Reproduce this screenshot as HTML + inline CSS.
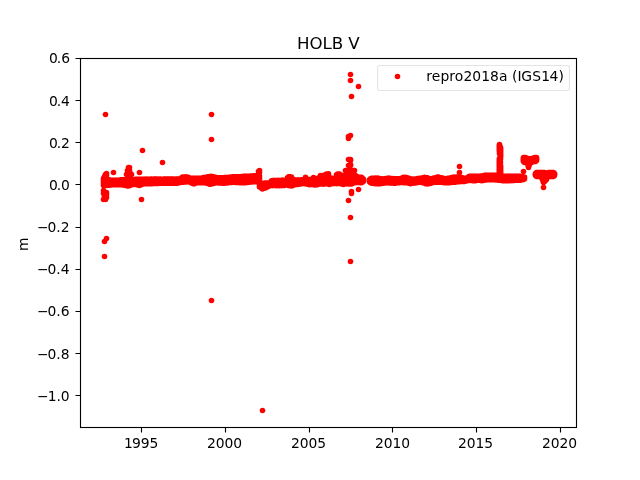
<!DOCTYPE html>
<html lang="en">
<head>
<meta charset="utf-8">
<title>HOLB V</title>
<style>
html,body{margin:0;padding:0;background:#fff;}
body{width:640px;height:480px;overflow:hidden;}
svg{display:block;}
text{font-family:"DejaVu Sans","Liberation Sans",sans-serif;fill:#000;}
.tk{font-size:13.89px;}
.tt{font-size:16.67px;}
</style>
</head>
<body>
<svg width="640" height="480" viewBox="0 0 640 480">
<rect x="0" y="0" width="640" height="480" fill="#fff"/>
<g id="series" fill="none" stroke="#f00" stroke-width="5.56" stroke-linecap="round">
<path d="M103.5 178.45V185.59M104.5 178.78V185.48M105.5 179V185.47M106.5 179.13V185.42M107.5 179.38V185.32M108.5 179.63V185.15M109.5 179.88V185.18M110.5 179.98V184.87M111.5 180.26V184.87M112.5 180.3V184.7M113.5 180.39V184.61M114.5 180.37V184.67M115.5 180.19V184.63M116.5 180.23V184.8M117.5 180.2V184.74M118.5 180.27V184.69M119.5 180.08V184.62M120.5 179.8V184.65M121.5 179.82V184.74M122.5 179.74V184.91M123.5 179.77V184.96M124.5 179.85V185.18M125.5 179.72V185.29M126.5 179.79V185.73M127.5 179.84V186.09M128.5 179.9V186.05M129.5 179.76V185.7M130.5 179.7V185.26M131.5 179.63V185.05M132.5 179.68V184.78M133.5 179.58V184.47M134.5 179.41V184.3M135.5 179.3V184.27M136.5 179.36V184.65M137.5 179.27V184.89M138.5 179.17V185.2M139.5 179.32V185.57M140.5 179.36V185.09M141.5 179.25V184.68M142.5 179.17V184.13M143.5 179.2V183.69M144.5 179.16V183.78M145.5 179.15V183.66M146.5 179.19V183.81M147.5 179.09V183.71M148.5 179.18V183.81M149.5 179.22V183.81M150.5 179.06V183.7M151.5 179.06V183.81M152.5 179.19V183.6M153.5 179V183.56M154.5 179.02V183.55M155.5 179.1V183.44M156.5 178.96V183.41M157.5 179.05V183.39M158.5 179.19V183.35M159.5 179.08V183.27M160.5 179.12V183.11M161.5 179.18V183.29M162.5 179.17V183.29M163.5 179.05V183.2M164.5 178.98V183.25M165.5 178.97V183.12M166.5 179.01V183.14M167.5 179.04V183.11M168.5 178.96V183.14M169.5 178.98V183.19M170.5 178.97V183.31M171.5 179.11V183.14M172.5 179.02V183.18M173.5 179.05V183.13M174.5 179.16V183.34M175.5 179.07V183.22M176.5 178.98V183.12M177.5 179.04V183.16M178.5 179.16V183.06M179.5 178.9V182.75M180.5 178.6V182.19M181.5 177.72V182.07M182.5 176.99V182.24M183.5 177.07V182.11M184.5 176.92V181.96M185.5 176.9V182M186.5 176.99V181.94M187.5 176.94V181.74M188.5 177.26V181.86M189.5 177.92V181.87M190.5 178.29V182.23M191.5 178.21V182.91M192.5 178.25V183.46M193.5 178.17V183.85M194.5 178.22V183.69M195.5 178.39V183.13M196.5 178.38V182.9M197.5 178.39V182.69M198.5 178.21V182.65M199.5 178.21V182.65M200.5 178.26V182.82M201.5 178.12V182.72M202.5 177.87V182.79M203.5 177.53V182.76M204.5 177.53V182.79M205.5 177.29V182.78M206.5 176.99V183.14M207.5 176.86V183.48M208.5 176.85V183.71M209.5 176.54V184.18M210.5 176.46V184.33M211.5 176.31V184.06M212.5 176.66V183.72M213.5 176.68V183.35M214.5 177.21V183.14M215.5 177.39V182.94M216.5 177.63V182.65M217.5 177.89V182.78M218.5 177.79V182.92M219.5 177.76V182.98M220.5 177.86V182.89M221.5 177.72V182.98M222.5 177.72V183.13M223.5 177.72V183.16M224.5 177.65V183.26M225.5 177.61V183.05M226.5 177.56V183.05M227.5 177.42V182.96M228.5 177.34V182.76M229.5 177.25V182.54M230.5 177.13V182.48M231.5 176.92V182.53M232.5 176.86V182.35M233.5 176.9V182.27M234.5 176.74V182.26M235.5 176.79V182.4M236.5 176.69V182.43M237.5 176.72V182.45M238.5 176.85V182.59M239.5 176.79V182.73M240.5 176.84V182.71M241.5 176.64V182.72M242.5 176.49V182.77M243.5 176.35V182.73M244.5 176.27V182.77M245.5 176.33V182.68M246.5 176.39V182.44M247.5 176.29V182.53M248.5 176.36V182.25M249.5 176.19V182.24M250.5 176.14V182.07M251.5 176.01V182.05M252.5 176.06V181.98M253.5 175.78V181.81M254.5 175.82V181.63M255.5 175.87V181.83M256.5 175.71V181.83M257.5 175.76V181.72M258.5 175.9V181.8M259.5 175.7V181.7M259.5 184.82V186.99M260.5 184.54V187.53M261.5 184.42V188.15M262.5 184.11V189.08M263.5 183.32V188.57M264.5 183.09V188.33M265.5 182.95V188.04M266.5 183.12V187.52M267.5 182.94V186.85M268.5 182.92V186.57M269.5 182.79V186.02M270.5 182.16V185.8M271.5 180.75V185.46M272.5 180.5V185.62M273.5 180.6V185.57M274.5 180.48V185.41M275.5 180.63V185.5M276.5 180.48V185.63M277.5 180.61V185.59M278.5 180.48V185.61M279.5 180.48V185.61M280.5 180.57V185.48M281.5 180.59V185.62M282.5 180.52V185.43M283.5 180.59V185.46M284.5 180.49V185.38M285.5 180.35V184.93M286.5 179.87V184.77M287.5 177.85V184.96M288.5 176.88V185.52M289.5 176.84V185.75M290.5 176.82V185.78M291.5 176.94V185.94M292.5 178.71V185.78M293.5 179.56V185.07M294.5 179.94V184.75M295.5 179.98V184.7M296.5 179.95V184.48M297.5 180.03V184.45M298.5 179.94V184.28M299.5 180.03V184.12M300.5 179.96V183.93M301.5 179.87V183.76M302.5 179.88V183.79M303.5 179.86V183.54M304.5 179.76V183.6M305.5 179.88V183.73M306.5 179.68V183.91M307.5 179.61V184.23M308.5 179.52V184.5M309.5 179.48V184.67M310.5 179.53V184.51M311.5 179.23V184.56M312.5 179.11V184.45M313.5 178.9V184.73M314.5 178.88V185.08M315.5 178.68V185.01M316.5 178.5V184.78M317.5 178.38V184.64M318.5 177.96V184.29M319.5 177.23V184.08M320.5 176.44V183.9M321.5 175.84V183.76M322.5 175.67V183.99M323.5 175.37V184.18M324.5 175.18V184.08M325.5 174.71V183.84M326.5 174.05V183.7M327.5 173.95V183.84M328.5 173.78V184.31M329.5 177.16V184.42M330.5 177.91V184.02M331.5 178.21V183.66M332.5 178.33V183.61M333.5 178.52V183.57M334.5 178.3V183.41M335.5 177.73V183.49M336.5 174.69V183.6M337.5 174.13V183.55M338.5 173.92V183.56M339.5 174.01V183.4M340.5 174.69V183.64M341.5 175.31V183.9M342.5 175.61V184.15M343.5 175.64V184.4M344.5 175.29V184.04M345.5 174.79V183.72M346.5 172.43V183.87M347.5 172.74V183.81M348.5 172.98V183.96M349.5 173.3V184.03M350.5 173.52V183.98M351.5 173.77V184.08M352.5 174.42V183.6M353.5 174.73V183.09M354.5 174.67V182.75M355.5 175.6V182.67M356.5 176.36V182.53M357.5 176.74V182.53M358.5 176.93V182.45M359.5 177.23V182.51M360.5 177.39V182.72M361.5 177.27V182.67M362.5 178.25V182.25M363.5 179.22V181.22M363.02 179.22V181.22M369.5 179.77V181.77M370.5 178.71V182.71M371.5 178.2V183.15M372.5 178.29V183.21M373.5 178.26V183.4M374.5 178.27V183.54M375.5 178.12V183.68M376.5 178.18V183.56M377.5 178.14V183.77M378.5 178.49V183.81M379.5 178.64V183.75M380.5 178.86V183.7M381.5 178.84V183.5M382.5 178.96V183.18M383.5 178.9V183.2M384.5 178.81V182.98M385.5 178.6V182.89M386.5 178.64V182.84M387.5 178.16V182.85M388.5 178.14V182.81M389.5 178.42V183.04M390.5 178.55V183.12M391.5 178.58V183.01M392.5 178.68V183.04M393.5 178.65V183.27M394.5 178.77V183.28M395.5 178.71V183.17M396.5 178.79V182.93M397.5 178.73V182.66M398.5 178.74V182.68M399.5 178.74V182.66M400.5 178.56V182.46M401.5 178.35V182.43M402.5 177.7V182.53M403.5 177.37V182.66M404.5 177.48V182.59M405.5 177.35V182.65M406.5 177.57V182.74M407.5 177.77V182.88M408.5 178.08V183.26M409.5 178.45V183.3M410.5 178.84V183.68M411.5 178.98V183.42M412.5 179.15V183.17M413.5 179.2V183.02M414.5 179.03V182.92M415.5 178.97V182.93M416.5 178.87V182.67M417.5 178.64V182.55M418.5 178.49V182.37M419.5 178.27V182.21M420.5 178.34V182.18M421.5 177.99V182.54M422.5 177.83V182.69M423.5 177.43V182.95M424.5 177.38V183.25M425.5 177.68V183.65M426.5 177.83V183.79M427.5 177.88V184.06M428.5 178.33V183.75M429.5 178.51V183.39M430.5 178.7V183.36M431.5 178.8V183.1M432.5 178.6V182.7M433.5 178.15V182.43M434.5 177.99V182.32M435.5 177.85V182.27M436.5 177.39V182.28M437.5 176.98V182.23M438.5 177.13V182.29M439.5 177.43V182.32M440.5 177.77V182.17M441.5 177.9V182.2M442.5 178.27V182.43M443.5 178.4V182.41M444.5 178.73V182.66M445.5 178.7V182.65M446.5 178.56V182.6M447.5 178.29V182.71M448.5 178.24V182.75M449.5 178.03V182.71M450.5 177.67V182.58M451.5 177.7V182.56M452.5 177.39V182.27M453.5 177.29V182.3M454.5 177.14V182.1M455.5 177.16V182.16M456.5 177.02V181.85M457.5 177V181.84M458.5 177.04V181.68M459.5 177.05V181.74M460.5 176.98V181.54M461.5 177.63V181.5M462.5 178.14V181.41M463.5 178.14V181.45M464.5 178.25V181.41M465.5 178.38V181.07M466.5 178.13V180.88M467.5 177.63V180.71M468.5 176.78V180.26M469.5 176.21V180.37M470.5 176.19V180.25M471.5 176.17V180.43M472.5 176.38V180.65M473.5 176.34V180.78M474.5 176.38V180.62M475.5 176.2V180.66M476.5 176.34V180.34M477.5 176.32V180.33M478.5 176.25V180.22M479.5 176.16V180.16M480.5 176.01V180.54M481.5 176.01V180.81M482.5 175.84V180.57M483.5 175.46V180.35M484.5 175.36V180.14M485.5 175.17V180.05M486.5 175.25V180.06M487.5 175.21V179.82M488.5 175.38V179.64M489.5 175.26V179.79M490.5 175.34V179.61M491.5 175.17V179.62M492.5 175.38V179.66M493.5 175.34V179.82M494.5 175.24V179.7M495.5 175.39V179.89M496.5 175.22V180.01M497.5 175.24V180M498.5 175.16V180.22M499.5 175.53V180.29M500.5 175.74V180.24M501.5 175.77V180.45M502.5 176.14V180.67M503.5 176.2V180.6M504.5 176.26V180.72M505.5 176.38V180.64M506.5 176.35V180.78M507.5 176.36V180.79M508.5 176.31V180.68M509.5 176.24V180.69M510.5 176.35V180.56M511.5 176.21V180.62M512.5 176.22V180.35M513.5 176.17V180.37M514.5 176.24V180.37M515.5 176.37V180.34M516.5 176.22V180.12M517.5 176.18V180.22M518.5 176.33V180.21M519.5 176.22V180.2M520.5 176.35V180.18M521.5 176.46V180.09M522.5 176.51V179.8M523.5 176.68V179.59M524.5 177.01V179.11M369.98 179.77V181.77M278.5 180.18V183.04M282.5 180.08V182.98M305.5 177.38V181.81M313.5 177.58V181.82M320.5 175.58V180.17"/>
<path d="M103.5 190.5h0"/>
<path d="M103.5 193.5h0"/>
<path d="M103.5 199.5h0"/>
<path d="M104.5 176.5h0"/>
<path d="M104.5 192.5h0"/>
<path d="M104.5 196.5h0"/>
<path d="M104.5 198.5h0"/>
<path d="M104.5 241.5h0"/>
<path d="M104.5 256.5h0"/>
<path d="M105.5 114.5h0"/>
<path d="M105.5 174.5h0"/>
<path d="M105.5 194.5h0"/>
<path d="M105.5 196.5h0"/>
<path d="M105.5 199.5h0"/>
<path d="M106.5 173.5h0"/>
<path d="M106.5 175.5h0"/>
<path d="M106.5 192.5h0"/>
<path d="M106.5 194.5h0"/>
<path d="M106.5 197.5h0"/>
<path d="M106.5 238.5h0"/>
<path d="M113.5 172.5h0"/>
<path d="M126.5 174.5h0"/>
<path d="M127.5 170.5h0"/>
<path d="M127.5 173.5h0"/>
<path d="M128.5 167.5h0"/>
<path d="M128.5 175.5h0"/>
<path d="M129.5 167.5h0"/>
<path d="M129.5 170.5h0"/>
<path d="M130.5 173.5h0"/>
<path d="M131.5 174.5h0"/>
<path d="M139.5 172.5h0"/>
<path d="M141.5 199.5h0"/>
<path d="M142.5 150.5h0"/>
<path d="M162.5 162.5h0"/>
<path d="M211.5 114.5h0"/>
<path d="M211.5 139.5h0"/>
<path d="M211.5 300.5h0"/>
<path d="M258.5 171.5h0"/>
<path d="M259.5 170.5h0"/>
<path d="M259.5 172.5h0"/>
<path d="M262.5 410.5h0"/>
<path d="M345.5 170.5h0"/>
<path d="M346.5 170.5h0"/>
<path d="M346.5 171.5h0"/>
<path d="M347.5 170.5h0"/>
<path d="M348.5 136.5h0"/>
<path d="M348.5 138.5h0"/>
<path d="M348.5 159.5h0"/>
<path d="M348.5 165.5h0"/>
<path d="M348.5 170.5h0"/>
<path d="M348.5 200.5h0"/>
<path d="M349.5 159.5h0"/>
<path d="M349.5 165.5h0"/>
<path d="M349.5 170.5h0"/>
<path d="M350.5 74.5h0"/>
<path d="M350.5 80.5h0"/>
<path d="M350.5 135.5h0"/>
<path d="M350.5 159.5h0"/>
<path d="M350.5 160.5h0"/>
<path d="M350.5 164.5h0"/>
<path d="M350.5 165.5h0"/>
<path d="M350.5 170.5h0"/>
<path d="M350.5 217.5h0"/>
<path d="M350.5 261.5h0"/>
<path d="M351.5 96.5h0"/>
<path d="M351.5 170.5h0"/>
<path d="M351.5 191.5h0"/>
<path d="M351.5 193.5h0"/>
<path d="M352.5 170.5h0"/>
<path d="M353.5 170.5h0"/>
<path d="M353.5 171.5h0"/>
<path d="M354.5 170.5h0"/>
<path d="M358.5 86.5h0"/>
<path d="M358.5 189.5h0"/>
<path d="M459.5 166.5h0"/>
<path d="M459.5 172.5h0"/>
<path d="M499.5 144.5h0"/>
<path d="M499.5 145.5h0"/>
<path d="M499.5 146.5h0"/>
<path d="M499.5 147.5h0"/>
<path d="M499.5 148.5h0"/>
<path d="M499.5 149.5h0"/>
<path d="M499.5 150.5h0"/>
<path d="M499.5 151.5h0"/>
<path d="M499.5 153.5h0"/>
<path d="M499.5 158.5h0"/>
<path d="M499.5 159.5h0"/>
<path d="M499.5 160.5h0"/>
<path d="M499.5 161.5h0"/>
<path d="M499.5 162.5h0"/>
<path d="M499.5 163.5h0"/>
<path d="M499.5 164.5h0"/>
<path d="M499.5 165.5h0"/>
<path d="M499.5 166.5h0"/>
<path d="M499.5 167.5h0"/>
<path d="M499.5 168.5h0"/>
<path d="M499.5 169.5h0"/>
<path d="M499.5 170.5h0"/>
<path d="M499.5 171.5h0"/>
<path d="M499.5 172.5h0"/>
<path d="M499.5 173.5h0"/>
<path d="M499.5 174.5h0"/>
<path d="M500.5 147.5h0"/>
<path d="M500.5 148.5h0"/>
<path d="M500.5 149.5h0"/>
<path d="M500.5 150.5h0"/>
<path d="M500.5 151.5h0"/>
<path d="M500.5 152.5h0"/>
<path d="M500.5 153.5h0"/>
<path d="M500.5 154.5h0"/>
<path d="M500.5 155.5h0"/>
<path d="M500.5 156.5h0"/>
<path d="M500.5 157.5h0"/>
<path d="M500.5 159.5h0"/>
<path d="M500.5 162.5h0"/>
<path d="M500.5 165.5h0"/>
<path d="M500.5 166.5h0"/>
<path d="M500.5 167.5h0"/>
<path d="M500.5 168.5h0"/>
<path d="M500.5 169.5h0"/>
<path d="M500.5 170.5h0"/>
<path d="M500.5 171.5h0"/>
<path d="M500.5 172.5h0"/>
<path d="M500.5 173.5h0"/>
<path d="M500.5 174.5h0"/>
<path d="M523.5 157.5h0"/>
<path d="M523.5 158.5h0"/>
<path d="M523.5 159.5h0"/>
<path d="M523.5 160.5h0"/>
<path d="M523.5 161.5h0"/>
<path d="M523.5 171.5h0"/>
<path d="M524.5 157.5h0"/>
<path d="M524.5 158.5h0"/>
<path d="M524.5 159.5h0"/>
<path d="M524.5 160.5h0"/>
<path d="M524.5 161.5h0"/>
<path d="M524.5 162.5h0"/>
<path d="M525.5 157.5h0"/>
<path d="M525.5 158.5h0"/>
<path d="M525.5 159.5h0"/>
<path d="M525.5 160.5h0"/>
<path d="M525.5 161.5h0"/>
<path d="M525.5 162.5h0"/>
<path d="M526.5 158.5h0"/>
<path d="M526.5 159.5h0"/>
<path d="M526.5 160.5h0"/>
<path d="M526.5 161.5h0"/>
<path d="M526.5 162.5h0"/>
<path d="M527.5 158.5h0"/>
<path d="M527.5 159.5h0"/>
<path d="M527.5 160.5h0"/>
<path d="M527.5 161.5h0"/>
<path d="M527.5 162.5h0"/>
<path d="M527.5 163.5h0"/>
<path d="M528.5 158.5h0"/>
<path d="M528.5 159.5h0"/>
<path d="M528.5 160.5h0"/>
<path d="M528.5 161.5h0"/>
<path d="M528.5 162.5h0"/>
<path d="M528.5 163.5h0"/>
<path d="M528.5 164.5h0"/>
<path d="M528.5 165.5h0"/>
<path d="M528.5 166.5h0"/>
<path d="M528.5 167.5h0"/>
<path d="M529.5 159.5h0"/>
<path d="M529.5 160.5h0"/>
<path d="M529.5 161.5h0"/>
<path d="M529.5 162.5h0"/>
<path d="M529.5 163.5h0"/>
<path d="M529.5 164.5h0"/>
<path d="M530.5 159.5h0"/>
<path d="M530.5 160.5h0"/>
<path d="M530.5 161.5h0"/>
<path d="M530.5 162.5h0"/>
<path d="M531.5 158.5h0"/>
<path d="M531.5 159.5h0"/>
<path d="M531.5 160.5h0"/>
<path d="M531.5 161.5h0"/>
<path d="M531.5 162.5h0"/>
<path d="M532.5 158.5h0"/>
<path d="M532.5 159.5h0"/>
<path d="M532.5 160.5h0"/>
<path d="M532.5 161.5h0"/>
<path d="M533.5 158.5h0"/>
<path d="M533.5 159.5h0"/>
<path d="M533.5 160.5h0"/>
<path d="M533.5 161.5h0"/>
<path d="M534.5 157.5h0"/>
<path d="M534.5 158.5h0"/>
<path d="M534.5 159.5h0"/>
<path d="M534.5 160.5h0"/>
<path d="M534.5 161.5h0"/>
<path d="M535.5 157.5h0"/>
<path d="M535.5 158.5h0"/>
<path d="M535.5 159.5h0"/>
<path d="M535.5 160.5h0"/>
<path d="M535.5 161.5h0"/>
<path d="M535.5 173.5h0"/>
<path d="M535.5 174.5h0"/>
<path d="M535.5 175.5h0"/>
<path d="M536.5 157.5h0"/>
<path d="M536.5 158.5h0"/>
<path d="M536.5 159.5h0"/>
<path d="M536.5 160.5h0"/>
<path d="M536.5 172.5h0"/>
<path d="M536.5 173.5h0"/>
<path d="M536.5 174.5h0"/>
<path d="M536.5 175.5h0"/>
<path d="M536.5 176.5h0"/>
<path d="M537.5 172.5h0"/>
<path d="M537.5 173.5h0"/>
<path d="M537.5 174.5h0"/>
<path d="M537.5 175.5h0"/>
<path d="M537.5 176.5h0"/>
<path d="M538.5 172.5h0"/>
<path d="M538.5 173.5h0"/>
<path d="M538.5 174.5h0"/>
<path d="M538.5 175.5h0"/>
<path d="M538.5 176.5h0"/>
<path d="M539.5 172.5h0"/>
<path d="M539.5 173.5h0"/>
<path d="M539.5 174.5h0"/>
<path d="M539.5 175.5h0"/>
<path d="M539.5 176.5h0"/>
<path d="M540.5 172.5h0"/>
<path d="M540.5 173.5h0"/>
<path d="M540.5 174.5h0"/>
<path d="M540.5 175.5h0"/>
<path d="M540.5 176.5h0"/>
<path d="M541.5 172.5h0"/>
<path d="M541.5 173.5h0"/>
<path d="M541.5 174.5h0"/>
<path d="M541.5 175.5h0"/>
<path d="M541.5 176.5h0"/>
<path d="M541.5 177.5h0"/>
<path d="M542.5 172.5h0"/>
<path d="M542.5 173.5h0"/>
<path d="M542.5 174.5h0"/>
<path d="M542.5 175.5h0"/>
<path d="M542.5 176.5h0"/>
<path d="M542.5 177.5h0"/>
<path d="M542.5 178.5h0"/>
<path d="M542.5 179.5h0"/>
<path d="M543.5 172.5h0"/>
<path d="M543.5 173.5h0"/>
<path d="M543.5 174.5h0"/>
<path d="M543.5 175.5h0"/>
<path d="M543.5 176.5h0"/>
<path d="M543.5 177.5h0"/>
<path d="M543.5 178.5h0"/>
<path d="M543.5 179.5h0"/>
<path d="M543.5 180.5h0"/>
<path d="M543.5 181.5h0"/>
<path d="M543.5 182.5h0"/>
<path d="M543.5 187.5h0"/>
<path d="M544.5 172.5h0"/>
<path d="M544.5 173.5h0"/>
<path d="M544.5 174.5h0"/>
<path d="M544.5 175.5h0"/>
<path d="M544.5 176.5h0"/>
<path d="M544.5 177.5h0"/>
<path d="M544.5 178.5h0"/>
<path d="M544.5 179.5h0"/>
<path d="M544.5 180.5h0"/>
<path d="M544.5 181.5h0"/>
<path d="M545.5 173.5h0"/>
<path d="M545.5 174.5h0"/>
<path d="M545.5 175.5h0"/>
<path d="M545.5 176.5h0"/>
<path d="M545.5 177.5h0"/>
<path d="M545.5 178.5h0"/>
<path d="M545.5 179.5h0"/>
<path d="M545.5 180.5h0"/>
<path d="M546.5 173.5h0"/>
<path d="M546.5 174.5h0"/>
<path d="M546.5 175.5h0"/>
<path d="M546.5 176.5h0"/>
<path d="M546.5 177.5h0"/>
<path d="M546.5 178.5h0"/>
<path d="M546.5 179.5h0"/>
<path d="M547.5 173.5h0"/>
<path d="M547.5 174.5h0"/>
<path d="M547.5 175.5h0"/>
<path d="M547.5 176.5h0"/>
<path d="M548.5 172.5h0"/>
<path d="M548.5 173.5h0"/>
<path d="M548.5 174.5h0"/>
<path d="M548.5 175.5h0"/>
<path d="M548.5 176.5h0"/>
<path d="M549.5 172.5h0"/>
<path d="M549.5 173.5h0"/>
<path d="M549.5 174.5h0"/>
<path d="M549.5 175.5h0"/>
<path d="M549.5 176.5h0"/>
<path d="M550.5 172.5h0"/>
<path d="M550.5 173.5h0"/>
<path d="M550.5 174.5h0"/>
<path d="M550.5 175.5h0"/>
<path d="M550.5 176.5h0"/>
<path d="M551.5 172.5h0"/>
<path d="M551.5 173.5h0"/>
<path d="M551.5 174.5h0"/>
<path d="M551.5 175.5h0"/>
<path d="M551.5 176.5h0"/>
<path d="M552.5 172.5h0"/>
<path d="M552.5 173.5h0"/>
<path d="M552.5 174.5h0"/>
<path d="M552.5 175.5h0"/>
<path d="M552.5 176.5h0"/>
<path d="M553.5 172.5h0"/>
<path d="M553.5 173.5h0"/>
<path d="M553.5 174.5h0"/>
<path d="M553.5 175.5h0"/>
<path d="M553.5 176.5h0"/>
<path d="M554.5 173.5h0"/>
<path d="M554.5 174.5h0"/>
<path d="M554.5 175.5h0"/>
</g>
<path d="M75.5 58.5H80M75.5 100.5H80M75.5 142.5H80M75.5 184.5H80M75.5 227.5H80M75.5 269.5H80M75.5 311.5H80M75.5 353.5H80M75.5 395.5H80M141.5 427.5V432.5M225.5 427.5V432.5M309.5 427.5V432.5M392.5 427.5V432.5M476.5 427.5V432.5M560.5 427.5V432.5" stroke="#000" stroke-width="1.11" fill="none"/>
<rect x="80.5" y="58.5" width="496" height="369" fill="none" stroke="#000" stroke-width="1.11"/>
<rect x="377.6" y="65.5" width="191.9" height="25" rx="2.2" ry="2.2" fill="#fff" fill-opacity="0.8" stroke="#ccc" stroke-opacity="0.52" stroke-width="1.11"/>
<circle cx="397.5" cy="76.5" r="2.78" fill="#f00"/>
<text class="tk" id="t_y1" x="36.9 47.65 56.48 60.64" y="401">−1.0</text>
<text class="tk" id="t_y2" x="36.9 47.4 56.23 60.64" y="359">−0.8</text>
<text class="tk" id="t_y3" x="36.9 47.4 56.23 60.64" y="316">−0.6</text>
<text class="tk" id="t_y4" x="36.9 47.4 56.23 60.64" y="274">−0.4</text>
<text class="tk" id="t_y5" x="36.9 47.4 56.23 60.64" y="232">−0.2</text>
<text class="tk" id="t_y6" x="48.9 56.73 60.89" y="190">0.0</text>
<text class="tk" id="t_y7" x="48.9 56.73 60.89" y="148">0.2</text>
<text class="tk" id="t_y8" x="48.9 56.73 60.89" y="106">0.4</text>
<text class="tk" id="t_y9" x="48.9 56.73 61.14" y="63">0.6</text>
<text class="tk" id="t_x1" x="124 131.95 140.65 149.48" y="448">1995</text>
<text class="tk" id="t_x2" x="206.88 215.71 224.41 233.24" y="448">2000</text>
<text class="tk" id="t_x3" x="290.95 299.65 308.48 317.18" y="448">2005</text>
<text class="tk" id="t_x4" x="374.95 383.66 392.49 401.19" y="448">2010</text>
<text class="tk" id="t_x5" x="457.9 466.73 475.43 484.13" y="448">2015</text>
<text class="tk" id="t_x6" x="541.9 550.73 559.43 568.14" y="448">2020</text>
<text class="tt" id="t_title" x="296.88 309.38 322.46 331.72 343.13 348.16" y="49">HOLB V</text>
<text class="tk" transform="translate(27.5 244.25) rotate(-90)" text-anchor="middle">m</text>
<text class="tk" id="t_legend" x="426.21 431.79 440.4 449.21 454.66 463.45 472.28 481.28 489.94 498.96 506.96 511.98 517.61 521.28 532.13 541.24 549.44 558.57" y="81">repro2018a (IGS14)</text>
</svg>
</body>
</html>
